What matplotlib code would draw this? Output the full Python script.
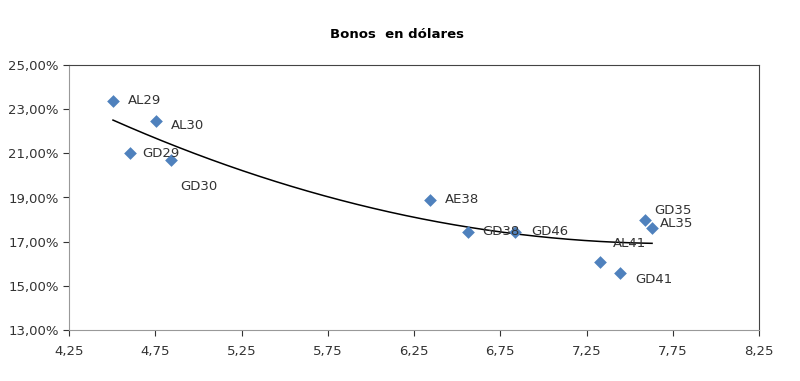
import numpy as np
import matplotlib
matplotlib.use("Agg")
import matplotlib.pyplot as plt
from matplotlib.ticker import FuncFormatter

# datos (duration, TIR %)
bonos = ['AL29', 'AL30', 'GD29', 'GD30', 'AE38', 'GD38', 'GD46', 'AL41', 'GD41', 'GD35', 'AL35']
duration = [4.505, 4.754, 4.604, 4.841, 6.343, 6.563, 6.836, 7.328, 7.444, 7.589, 7.630]
tir = [23.37, 22.46, 21.01, 20.70, 18.89, 17.44, 17.44, 16.08, 15.58, 17.98, 17.62]

# desplazamiento de etiquetas en puntos
offsets = {'AL29': (11, 0), 'AL30': (11, -3.5), 'GD29': (9, 0), 'GD30': (7, -19),
           'AE38': (11, 0), 'GD38': (10, 0), 'GD46': (11.5, 0), 'AL41': (9.5, 13),
           'GD41': (11, -5), 'GD35': (6.5, 7), 'AL35': (6, 3.5)}

plt.rcParams['font.family'] = ['DejaVu Sans']

fig = plt.figure(figsize=(8, 3.81), dpi=100)
ax = fig.add_axes([69/800, 1-330/381, 690/800, 265/381])

x = np.array(duration)
y = np.array(tir)
coef = np.polyfit(x, y, 2)
xs = np.linspace(x.min(), x.max(), 200)
ax.plot(xs, np.polyval(coef, xs), color='black', lw=1.1, zorder=2)

ax.scatter(x, y, marker='D', s=42, color='#4F81BD', zorder=3, linewidths=0)
for b, xi, yi in zip(bonos, duration, tir):
    dx, dy = offsets[b]
    ax.annotate(b, (xi, yi), xytext=(dx, dy), textcoords='offset points',
                fontsize=9.5, color='#333333', ha='left', va='center')

ax.set_xlim(4.25, 8.25)
ax.set_ylim(13, 25)
ax.set_xticks(np.arange(4.25, 8.26, 0.5))
ax.set_yticks(np.arange(13, 25.1, 2))
ax.xaxis.set_major_formatter(FuncFormatter(lambda v, p: f"{v:.2f}".replace('.', ',')))
ax.yaxis.set_major_formatter(FuncFormatter(lambda v, p: f"{v:.2f}".replace('.', ',') + '%'))
ax.tick_params(labelsize=9.5, colors='#333333', length=4, width=0.8)
ax.tick_params(axis='x', pad=7)
for s in ['left', 'bottom']:
    ax.spines[s].set_color('#999999')
for s in ['top', 'right']:
    ax.spines[s].set_color('#444444')

fig.text(397/800, 1-35/381, 'Bonos  en dólares', ha='center', va='center',
         fontsize=9.5, fontweight='bold')

fig.savefig('out.png', dpi=100)
